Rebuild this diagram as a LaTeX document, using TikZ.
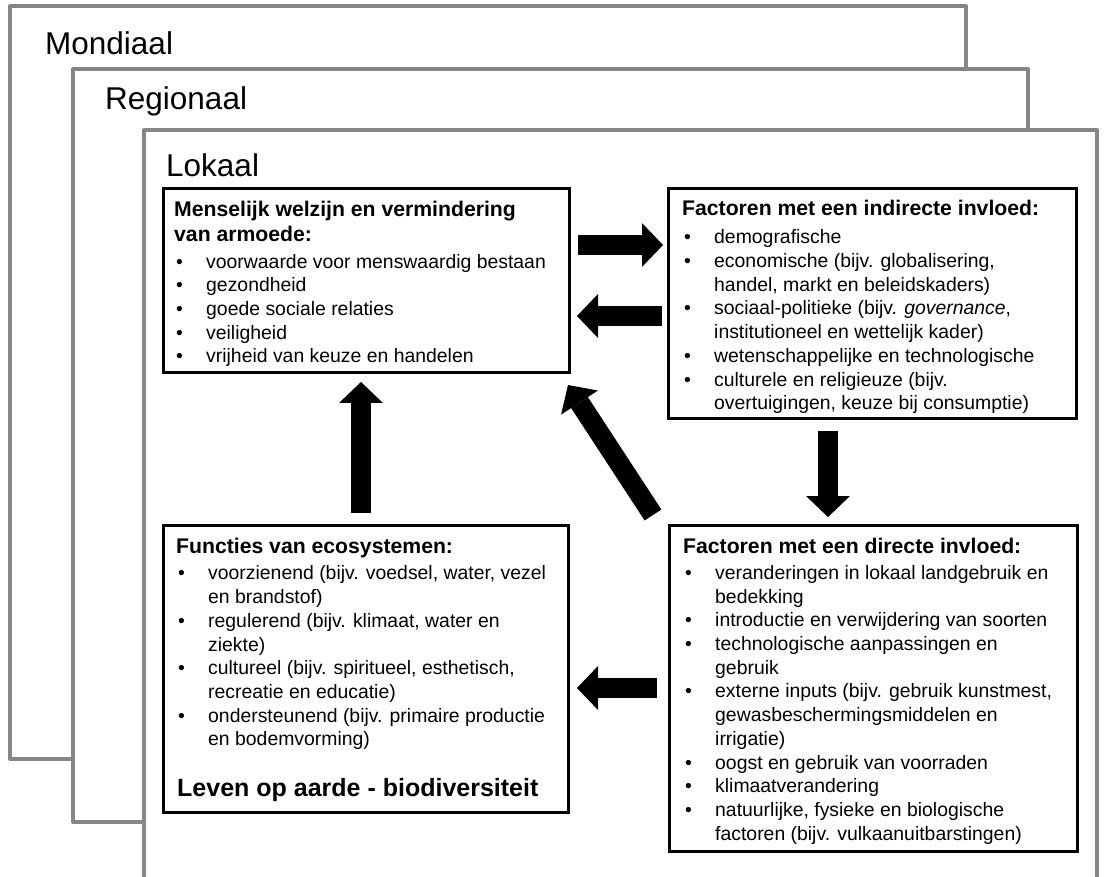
\documentclass[tikz,border=0pt]{standalone}
\usepackage{fontspec}
\setmainfont{Liberation Sans}
\usetikzlibrary{arrows.meta,calc,positioning}

\newcommand{\boxTitle}[1]{\rule{0pt}{16pt}{\fontsize{21.2}{23.7}\selectfont\bfseries #1}}
\newcommand{\bulItem}{\hspace*{2pt}\makebox[30pt][l]{\textbullet}}
\newcommand{\contLine}{\hspace*{32pt}}

\tikzset{
  frame/.style={draw=gray!95,line width=4pt,fill=white,line join=round},
  framelabel/.style={anchor=base west,inner sep=0pt,font=\fontsize{31.5}{36}\selectfont},
  box/.style={draw,line width=3pt,fill=white,outer sep=0pt,inner sep=0pt,anchor=north west},
  boxtext/.style={anchor=north west,inner sep=0pt,align=left,font=\fontsize{19.4}{23.7}\selectfont},
  fat/.style={line width=20pt,-{Triangle[length=21pt,width=44pt,line width=0pt]}}
}

\begin{document}
\begin{tikzpicture}[x=1pt,y=-1pt]
\useasboundingbox (0,0) rectangle (1104,877);

% scales
\draw [frame] (10,6) rectangle (966,759);
\node [framelabel] (mond) at (45,55) {Mondiaal};
\draw [frame] (73,69) rectangle (1028,822);
\node [framelabel] (regio) at (105,110) {Regionaal};
\draw [frame] (144,130) rectangle (1097,900);
\node [framelabel] (lokaal) at (166,177) {Lokaal};

% boxes
\node [box,minimum width=406pt,minimum height=184pt] (W) at (163,189) {};
\node [box,minimum width=408pt,minimum height=230pt] (I) at (668,189) {};
\node [box,minimum width=408pt,minimum height=326pt] (D) at (669,525) {};
\node [box,minimum width=405pt,minimum height=287pt] (E) at (163,525) {};

\node [boxtext] (Wtext) at ($(W.north west)+(11,11)$) {
\boxTitle{Menselijk welzijn en vermindering}\\[1.5pt]
\boxTitle{van armoede:}\\[3pt]
\bulItem voorwaarde voor menswaardig bestaan\\
\bulItem gezondheid\\
\bulItem goede sociale relaties\\
\bulItem veiligheid\\
\bulItem vrijheid van keuze en handelen};

\node [boxtext] (Itext) at ($(I.north west)+(14,10)$) {
\boxTitle{Factoren met een indirecte invloed:}\\[5pt]
\bulItem demografische\\
\bulItem economische (bijv. globalisering,\\
\contLine handel, markt en beleidskaders)\\
\bulItem sociaal-politieke (bijv. \textit{governance},\\
\contLine institutioneel en wettelijk kader)\\
\bulItem wetenschappelijke en technologische\\
\bulItem culturele en religieuze (bijv.\\
\contLine overtuigingen, keuze bij consumptie)};

\node [boxtext] (Dtext) at ($(D.north west)+(14,12)$) {
\boxTitle{Factoren met een directe invloed:}\\[2.5pt]
\bulItem veranderingen in lokaal landgebruik en\\
\contLine bedekking\\
\bulItem introductie en verwijdering van soorten\\
\bulItem technologische aanpassingen en\\
\contLine gebruik\\
\bulItem externe inputs (bijv. gebruik kunstmest,\\
\contLine gewasbeschermingsmiddelen en\\
\contLine irrigatie)\\
\bulItem oogst en gebruik van voorraden\\
\bulItem klimaatverandering\\
\bulItem natuurlijke, fysieke en biologische\\
\contLine factoren (bijv. vulkaanuitbarstingen)};

\node [boxtext] (Etext) at ($(E.north west)+(13,12)$) {
\boxTitle{Functies van ecosystemen:}\\[3pt]
\bulItem voorzienend (bijv. voedsel, water, vezel\\
\contLine en brandstof)\\
\bulItem regulerend (bijv. klimaat, water en\\
\contLine ziekte)\\
\bulItem cultureel (bijv. spiritueel, esthetisch,\\
\contLine recreatie en educatie)\\
\bulItem ondersteunend (bijv. primaire productie\\
\contLine en bodemvorming)};
\node [anchor=base west,inner sep=0pt,font=\fontsize{25}{28}\selectfont\bfseries] (leven)
  at ($(E.north west)+(14,271)$) {Leven op aarde - biodiversiteit};

% arrows
\draw [fat] ($(W.north east)+(9,56)$) -- ($(I.north west)+(-5,56)$);
\draw [fat] ($(I.north west)+(-6,127)$) -- ($(W.north east)+(8,127)$);
\draw [fat] ($(I.south west)+(160,12)$) -- ($(D.north west)+(159,-8)$);
\draw [fat] ($(D.north west)+(-12,163)$) -- ($(E.north east)+(9,163)$);
\draw [fat] ($(E.north west)+(198,-12)$) -- ($(W.south west)+(198,9)$);
\draw [fat] ($(D.north west)+(-16,-10)$) -- ($(W.south east)+(-1,12)$);
\end{tikzpicture}
\end{document}
